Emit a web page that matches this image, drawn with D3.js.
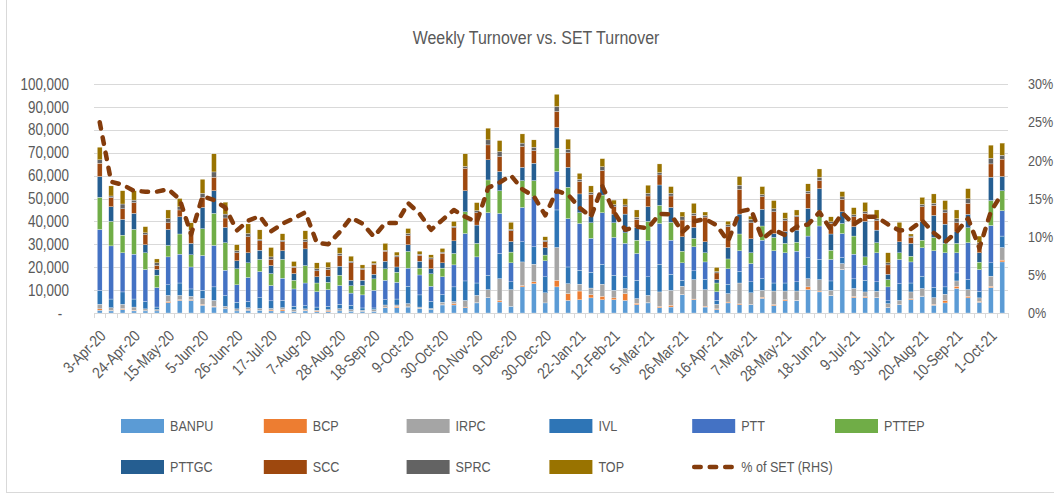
<!DOCTYPE html>
<html>
<head>
<meta charset="utf-8">
<script src="https://cdn.jsdelivr.net/npm/d3@7"></script>
<style>
  body { margin: 0; background: #fff; }
  svg text { font-family: "Liberation Sans", Arial, sans-serif; fill: #595959; }
</style>
</head>
<body>
<script>
const weeks = ["3-Apr-20","10-Apr-20","17-Apr-20","24-Apr-20","1-May-20","8-May-20","15-May-20","22-May-20","29-May-20","5-Jun-20",
  "12-Jun-20","19-Jun-20","26-Jun-20","3-Jul-20","10-Jul-20","17-Jul-20","24-Jul-20","31-Jul-20","7-Aug-20","14-Aug-20",
  "21-Aug-20","28-Aug-20","4-Sep-20","11-Sep-20","18-Sep-20","25-Sep-20","2-Oct-20","9-Oct-20","16-Oct-20","23-Oct-20",
  "30-Oct-20","6-Nov-20","13-Nov-20","20-Nov-20","27-Nov-20","4-Dec-20","9-Dec-20","18-Dec-20","25-Dec-20","30-Dec-20",
  "8-Jan-21","15-Jan-21","22-Jan-21","29-Jan-21","5-Feb-21","12-Feb-21","19-Feb-21","26-Feb-21","5-Mar-21","12-Mar-21",
  "19-Mar-21","26-Mar-21","2-Apr-21","9-Apr-21","16-Apr-21","23-Apr-21","30-Apr-21","7-May-21","14-May-21","21-May-21",
  "28-May-21","4-Jun-21","11-Jun-21","18-Jun-21","25-Jun-21","2-Jul-21","9-Jul-21","16-Jul-21","23-Jul-21","30-Jul-21",
  "6-Aug-21","13-Aug-21","20-Aug-21","27-Aug-21","3-Sep-21","10-Sep-21","17-Sep-21","24-Sep-21","1-Oct-21","8-Oct-21"]

const banpu = [1200,900,1500,900,900,900,4500,5500,5500,3400, 2600,1800,900,1200,1200,900,900,600,900,600,
  600,900,800,600,700,2300,2300,2600,2000,1500, 3500,3500,2300,4400,6700,4800,2900,11400,12800,4400,
  11400,5500,5800,6600,5800,5800,5500,3600,4400,2300, 2600,8000,5800,2600,1500,4400,3600,3600,6400,3200,
  5300,5500,10200,9200,7600,19000,6700,6700,6700,2300, 3600,5800,7300,3400,4400,10700,6600,4700,11100,22300]
const bcp = [600,200,400,300,100,0,500,300,300,400, 300,100,0,300,0,400,600,0,300,400,
  400,0,0,0,0,200,600,100,100,0, 100,600,300,100,100,700,0,600,800,0,
  2900,3000,3800,1400,1500,800,3000,700,100,600, 800,100,300,400,300,400,400,100,500,500,
  500,100,1200,400,100,100,500,500,100,100, 100,400,100,400,1100,1000,700,400,600,800]
const irpc = [2000,1200,1900,1400,800,600,2700,1900,1500,2500, 2600,1000,900,800,800,700,800,900,600,200,
  500,1000,700,600,800,1000,600,1400,500,500, 1100,900,2900,3200,3400,9500,7300,10300,7700,4400,
  14300,4300,3000,2900,5300,3300,2200,2000,3200,6300, 6500,3600,8500,7200,2000,3700,9100,5100,3000,5900,
  3800,4000,3600,5000,2200,2500,3500,2000,2700,1700, 1800,3000,3300,2900,2700,2300,2900,1500,4400,5500]
const ivl = [6000,3800,5400,3500,3200,1100,4600,5400,3200,3600, 5900,4700,2900,2700,4700,3300,3200,1400,1400,1400,
  1400,1900,1800,1000,700,2300,2600,7600,5300,3000, 3300,6400,8500,5400,6300,11000,3400,8800,7600,7000,
  16400,7300,6100,6900,8700,6600,5400,8000,8100,12100, 7000,2600,3800,4400,1700,4100,5000,4800,5100,3500,
  3500,4000,9100,8800,4100,2600,4200,5100,4100,1200, 7300,3900,5400,4400,3200,3500,4400,2900,5800,5000]
const ptt = [26700,23200,17100,19600,14000,8500,12200,12600,9600,15200, 18100,11100,7600,10500,11400,6700,9700,7600,9900,6700,
  7300,8200,5400,5700,7700,8500,7300,7900,8700,6700, 7800,9600,20700,11400,27300,17500,8300,15000,21900,7000,
  16800,21100,20400,14800,22500,16500,14300,11700,15700,17800, 14900,7600,10500,7700,3800,6700,9100,8000,16800,14100,
  13200,13400,9500,14600,9400,10500,10800,6600,12700,6100, 10600,9200,12400,16100,14900,8800,16100,9500,16300,11100]
const pttep = [14000,10700,7700,10800,7300,5400,5000,8800,5300,11700, 14000,12000,7000,6400,5300,5200,8200,3800,7600,3800,
  3200,4500,3200,4100,5000,5000,4400,7300,3000,5400, 3800,5000,9500,5900,14300,9900,4700,11700,7000,2500,
  10200,13700,4700,6800,7700,6400,4600,5800,8500,7900, 7800,5100,3700,4000,3800,4300,7300,4700,6200,5800,
  4100,3900,4600,6700,4000,4400,7900,3600,4400,3200, 2900,2500,3300,5800,4100,4100,6500,3200,10900,8700]
const pttgc = [9100,6400,6900,7000,3500,2500,7000,7500,5000,9300, 9900,6700,3500,4400,4000,3500,3800,2900,7300,2700,
  2700,3900,2400,2300,2000,3300,2300,2900,3000,2200, 2300,5500,9200,8000,8800,8400,4600,5800,7600,3200,
  9000,8700,8200,2900,3700,3800,8200,5600,6400,8900, 6500,6300,4800,4800,1500,5000,8700,6100,7300,1700,
  5200,5300,7500,9600,7100,5100,4100,15500,5500,2300, 4800,5600,8100,9600,8400,5100,5900,4100,10200,6200]
const scc = [5800,4100,4600,4700,4400,1700,2900,3000,4600,4400, 5900,4100,3500,7000,4100,2700,3900,2700,3100,2600,
  2900,4700,7600,4700,4300,4400,4400,4100,2500,4300, 4200,5700,9800,5400,6500,6500,4700,9100,5500,2600,
  7000,6400,5400,9500,7000,3200,3200,3500,4700,4400, 5000,7300,5200,10800,2900,9100,10800,7000,5500,9500,
  4700,5800,6600,3500,4600,5400,4300,3500,4100,4100, 4400,2600,6500,4400,5000,3900,4800,3600,5800,7600]
const sprc = [1500,600,2100,1100,800,1200,1900,1400,1200,1800, 2300,1700,900,1400,600,1100,700,500,1000,900,
  900,900,700,600,400,400,600,800,600,500, 500,700,800,900,2200,2200,600,1500,1500,700,
  2200,1500,1000,800,1700,900,800,900,1200,1000, 1200,1400,900,700,600,800,1800,1500,900,1300,
  900,600,900,1500,700,1100,900,700,900,900, 700,600,1000,900,1200,1800,2000,800,2500,1700]
const topOil = [5500,4400,5800,4100,2700,1700,3700,3600,3200,6100, 7900,5200,2600,4200,4200,4100,2800,2100,3800,2600,
  2300,2600,2200,1400,1000,3000,1500,2200,1300,1300, 1600,2100,5500,3500,5100,4800,3100,4000,3200,1500,
  5300,4400,2600,2900,3500,2000,2700,3200,3500,3800, 2900,2100,4400,1500,1800,1600,3800,1400,3500,3600,
  2600,2400,3200,3600,2200,2300,3100,4100,3800,4400, 3400,900,3100,4100,4100,3800,4400,2900,5700,5300]
// % of SET turnover, right axis
const pctSet = [25.0,17.2,16.8,16.0,15.9,15.9,16.2,14.9,10.3,15.3, 14.8,13.8,10.8,12.1,12.7,10.7,11.7,12.4,13.2,9.2,
  9.0,10.6,12.5,11.7,10.0,11.8,11.8,14.4,13.0,10.9, 12.2,13.5,12.6,11.9,16.4,17.1,18.0,16.2,15.3,12.8,
  16.0,15.5,13.8,12.6,16.6,13.3,10.9,11.3,11.1,13.0, 12.9,10.6,12.0,12.3,11.5,9.4,13.3,13.6,9.7,10.9,
  10.2,11.3,11.6,13.2,10.9,13.1,11.6,12.6,12.6,11.6, 10.8,11.0,12.1,10.5,9.3,10.6,12.4,8.5,13.3,15.7]

const leftTicks = [0,10000,20000,30000,40000,50000,60000,70000,80000,90000,100000]
const rightTicks = [0,5,10,15,20,25,30]

const stocks = ["BANPU","BCP","IRPC","IVL","PTT","PTTEP","PTTGC","SCC","SPRC","TOP"]
const seriesValues = [banpu, bcp, irpc, ivl, ptt, pttep, pttgc, scc, sprc, topOil]
const colors = ["#5B9BD5","#ED7D31","#A5A5A5","#2E75B6","#4472C4","#70AD47","#255E91","#9E480E","#636363","#997300"]
const lineColor = "#843C0C"

const width = 1054, height = 494
const plot = {x: 94, y: 84, w: 1008, h: 313}
// no narrow font installed, squeeze glyphs horizontally instead
const squeeze = 0.84

const svg = d3.select("body").append("svg")
    .attr("width", width)
    .attr("height", height)

svg.append("rect")
    .attr("x", 6.5).attr("y", -10)
    .attr("width", 1100).attr("height", 502.5)
    .attr("fill", "none")
    .attr("stroke", "#D9D9D9")

const rows = weeks.map((w, i) => {
    const r = {week: w}
    stocks.forEach((s, k) => r[s] = seriesValues[k][i])
    return r
})

const xScale = d3.scaleBand()
    .domain(weeks)
    .range([plot.x, plot.w])
    .paddingInner(0.58)
    .paddingOuter(0.29)

const xCells = d3.scaleBand()
    .domain(weeks)
    .range([plot.x, plot.w])

const yScale = d3.scaleLinear()
    .domain([0, 100000])
    .range([plot.h, plot.y])

const yRight = d3.scaleLinear()
    .domain([0, 30])
    .range([plot.h, plot.y])

// gridlines
svg.append("g")
    .selectAll("line")
    .data(leftTicks)
    .enter()
    .append("line")
    .attr("x1", plot.x).attr("x2", plot.w)
    .attr("y1", d => Math.round(yScale(d)) + 0.5)
    .attr("y2", d => Math.round(yScale(d)) + 0.5)
    .attr("stroke", "#D9D9D9")
    .attr("stroke-width", 1)

// category tick marks
svg.append("g")
    .selectAll("line")
    .data(weeks.concat([null]))
    .enter()
    .append("line")
    .attr("x1", d => Math.round(d === null ? plot.w : xCells(d)) + 0.5)
    .attr("x2", d => Math.round(d === null ? plot.w : xCells(d)) + 0.5)
    .attr("y1", plot.h)
    .attr("y2", plot.h + 5)
    .attr("stroke", "#D9D9D9")

const stacked = d3.stack().keys(stocks)(rows)

svg.append("g")
    .selectAll("g")
    .data(stacked)
    .enter()
    .append("g")
    .attr("fill", (d, i) => colors[i])
    .selectAll("rect")
    .data(d => d)
    .enter()
    .append("rect")
    .attr("x", d => xScale(d.data.week))
    .attr("y", d => yScale(d[1]))
    .attr("width", xScale.bandwidth())
    .attr("height", d => Math.max(0, yScale(d[0]) - yScale(d[1])))
    .attr("stroke", "#fff")
    .attr("stroke-width", 0.3)

const line = d3.line()
    .x((d, i) => xScale(weeks[i]) + xScale.bandwidth() / 2)
    .y(d => yRight(d))

svg.append("path")
    .datum(pctSet)
    .attr("d", line)
    .attr("fill", "none")
    .attr("stroke", lineColor)
    .attr("stroke-width", 4.5)
    .attr("stroke-linecap", "round")
    .attr("stroke-linejoin", "round")
    .attr("stroke-dasharray", "6.5 9")

function squeezeAxisText(g) {
    g.selectAll("text").each(function() {
        const t = d3.select(this)
        const x = +t.attr("x")
        t.attr("x", 0).attr("transform", `translate(${x},0) scale(${squeeze},1)`)
    })
}

// left axis
const fmt = d3.format(",")
svg.append("g")
    .attr("transform", `translate(${plot.x},0)`)
    .call(d3.axisLeft(yScale).tickValues(leftTicks).tickSize(0).tickPadding(25)
        .tickFormat(d => d === 0 ? "-" : fmt(d)))
    .call(g => g.select(".domain").remove())
    .call(g => g.selectAll("text").attr("font-size", 16).attr("fill", "#595959")
        .attr("font-family", null)
        .attr("dx", d => d === 0 ? -8 : 0))
    .call(squeezeAxisText)

// right axis
svg.append("g")
    .attr("transform", `translate(${plot.w},0)`)
    .call(d3.axisRight(yRight).tickValues(rightTicks).tickSize(0).tickPadding(20)
        .tickFormat(d => d + "%"))
    .call(g => g.select(".domain").remove())
    .call(g => g.selectAll("text").attr("font-size", 15).attr("fill", "#595959").attr("font-family", null))
    .call(squeezeAxisText)

// x labels, every third week
svg.append("g")
    .selectAll("text")
    .data(weeks.filter((d, i) => i % 3 === 0))
    .enter()
    .append("text")
    .attr("transform", d => `translate(${xScale(d) + xScale.bandwidth() / 2 + 3},333) rotate(-45) scale(${squeeze},1)`)
    .attr("text-anchor", "end")
    .attr("dy", "0.35em")
    .attr("font-size", 16)
    .text(d => d)

svg.append("text")
    .attr("transform", `translate(536,44) scale(${squeeze},1)`)
    .attr("text-anchor", "middle")
    .attr("font-size", 19)
    .text("Weekly Turnover vs. SET Turnover")

// legend
const legendItems = stocks.map((s, i) => ({name: s, color: colors[i], kind: "bar"}))
    .concat([{name: "% of SET (RHS)", color: lineColor, kind: "line"}])

const legend = svg.append("g")
legendItems.forEach((d, i) => {
    const col = i % 6, row = Math.floor(i / 6)
    const gx = 121 + col * 142.8, gy = 426 + row * 41
    const g = legend.append("g").attr("transform", `translate(${gx},${gy})`)
    if (d.kind === "bar") {
        g.append("rect").attr("x", 0).attr("y", -7).attr("width", 43).attr("height", 14).attr("fill", d.color)
    } else {
        g.append("line").attr("x1", 2).attr("x2", 40).attr("y1", 0).attr("y2", 0)
            .attr("stroke", d.color).attr("stroke-width", 4.5)
            .attr("stroke-linecap", "round").attr("stroke-dasharray", "6.5 9")
    }
    g.append("text")
        .attr("transform", `translate(49,0) scale(${squeeze},1)`)
        .attr("dy", "0.35em")
        .attr("font-size", 15).text(d.name)
})
</script>
</body>
</html>
